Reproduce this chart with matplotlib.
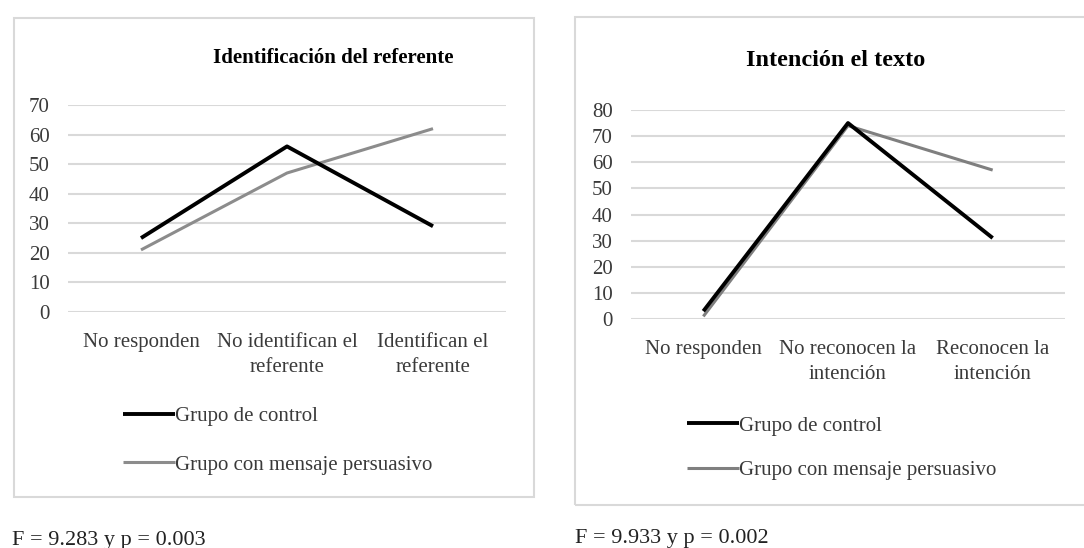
import matplotlib
matplotlib.use('Agg')
from matplotlib import pyplot as plt
from matplotlib.patches import Rectangle

# datos
cats_ref = ['No responden', 'No identifican el\nreferente', 'Identifican el\nreferente']
control_ref = [25, 56, 29]
persuasivo_ref = [21, 47, 62]

cats_int = ['No responden', 'No reconocen la\nintención', 'Reconocen la\nintención']
control_int = [3, 75, 31]
persuasivo_int = [1, 74, 57]

titulo_ref = 'Identificación del referente'
titulo_int = 'Intención el texto'
nota_ref = 'F = 9.283 y p = 0.003'
nota_int = 'F = 9.933 y p = 0.002'
series = ['Grupo de control', 'Grupo con mensaje persuasivo']

plt.rcParams['font.family'] = ['Liberation Serif', 'DejaVu Serif']
W, H = 1084, 548
fig = plt.figure(figsize=(W / 100, H / 100), dpi=100)
fig.patch.set_facecolor('white')

txt = '#3a3a3a'
gris_borde = '#d9d9d9'


def px(x, y):
    return x / W, 1 - y / H


def panel(box, rect, cats, control, persuasivo, ymax, titulo, tsize, tpos,
          leg_pos, leg_sp, nota, npos, gris):
    # caja del grafico
    x0, y0, x1, y1 = box
    fig.patches.append(Rectangle((x0 / W, 1 - y1 / H), (x1 - x0) / W, (y1 - y0) / H,
                                 transform=fig.transFigure, fill=False,
                                 edgecolor=gris_borde, lw=1.5))
    ax = fig.add_axes(rect)
    xs = range(len(cats))
    ax.plot(xs, control, color='black', lw=2.8, label=series[0], clip_on=False,
            solid_capstyle='butt', zorder=3)
    ax.plot(xs, persuasivo, color=gris, lw=2.2, label=series[1], clip_on=False,
            solid_capstyle='butt', zorder=2)
    ax.set_xlim(-0.5, len(cats) - 0.5)
    ax.set_ylim(0, ymax)
    ax.set_yticks(range(0, ymax + 1, 10))
    ax.set_xticks(list(xs))
    ax.set_xticklabels(cats)
    ax.tick_params(length=0, labelsize=15, labelcolor=txt)
    ax.tick_params(axis='y', pad=13)
    ax.tick_params(axis='x', pad=15)
    for t in ax.get_xticklabels():
        t.set_linespacing(1.45)
    for s in ax.spines.values():
        s.set_visible(False)
    ax.yaxis.grid(True, color=gris_borde, lw=1.5)
    ax.set_axisbelow(True)
    ax.patch.set_alpha(0)

    fx, fy = px(*tpos)
    fig.text(fx, fy, titulo, ha='center', va='center', fontsize=tsize,
             fontweight='bold', color='black')

    lx, ly = px(*leg_pos)
    leg = ax.legend(loc='center left', bbox_to_anchor=(lx, ly),
                    bbox_transform=fig.transFigure, frameon=False,
                    handlelength=2.5, handletextpad=0.0, borderpad=0,
                    borderaxespad=0, labelspacing=leg_sp, fontsize=15)
    for t in leg.get_texts():
        t.set_color(txt)

    nx, ny = px(*npos)
    fig.text(nx, ny, nota, ha='left', va='center', fontsize=16, color='#222222')
    return ax


panel((14, 18, 534, 497), [68 / W, 1 - 312 / H, 438 / W, 207 / H],
      cats_ref, control_ref, persuasivo_ref, 70, titulo_ref, 15, (333, 58),
      (123, 440.5), 1.4, nota_ref, (12, 540), '#8c8c8c')

panel((575, 17, 1092, 505), [631 / W, 1 - 319 / H, 434 / W, 209 / H],
      cats_int, control_int, persuasivo_int, 80, titulo_int, 17.5, (836, 60),
      (687, 448), 1.2, nota_int, (575, 538), '#7f7f7f')

fig.savefig('out.png', dpi=100, facecolor='white')
